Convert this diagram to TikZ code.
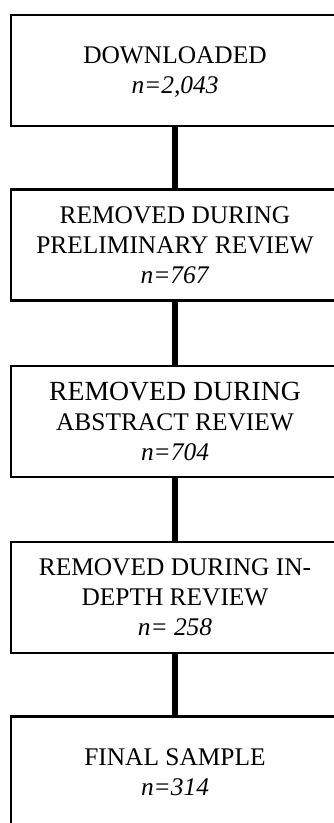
\documentclass[tikz,border=0pt]{standalone}
\usepackage{fontspec}
\setmainfont{Liberation Serif}
\begin{document}
\begin{tikzpicture}[x=1pt,y=-1pt,
  flowbox/.style={draw=black, line width=2.5pt, rectangle, minimum width=328pt,
    minimum height=111pt, inner sep=0pt, align=center,
    font=\fontsize{25.4}{30}\selectfont, text depth=0pt},
  link/.style={line width=6pt, draw=black}]
\useasboundingbox (0,0) rectangle (334,823);
\clip (0,0) rectangle (334,823);
\node[flowbox, text height=46.8pt] (b1) at (175,70.5) {DOWNLOADED\\\textit{n=2,043}};
\node[flowbox, text height=76.8pt] (b2) at (175,245) {REMOVED DURING\\PRELIMINARY REVIEW\\\textit{n=767}};
\node[flowbox, text height=78.3pt] (b3) at (175,421.5) {{\fontsize{27.7}{30}\selectfont REMOVED DURING}\\ABSTRACT REVIEW\\\textit{n=704}};
\node[flowbox, text height=76.8pt] (b4) at (175,597.5) {REMOVED DURING IN-\\DEPTH REVIEW\\\textit{n= 258}};
\node[flowbox, text height=46.8pt] (b5) at (175,772) {FINAL SAMPLE\\\textit{n=314}};
\draw[link] (b1) -- (b2);
\draw[link] (b2) -- (b3);
\draw[link] (b3) -- (b4);
\draw[link] (b4) -- (b5);
\end{tikzpicture}
\end{document}
